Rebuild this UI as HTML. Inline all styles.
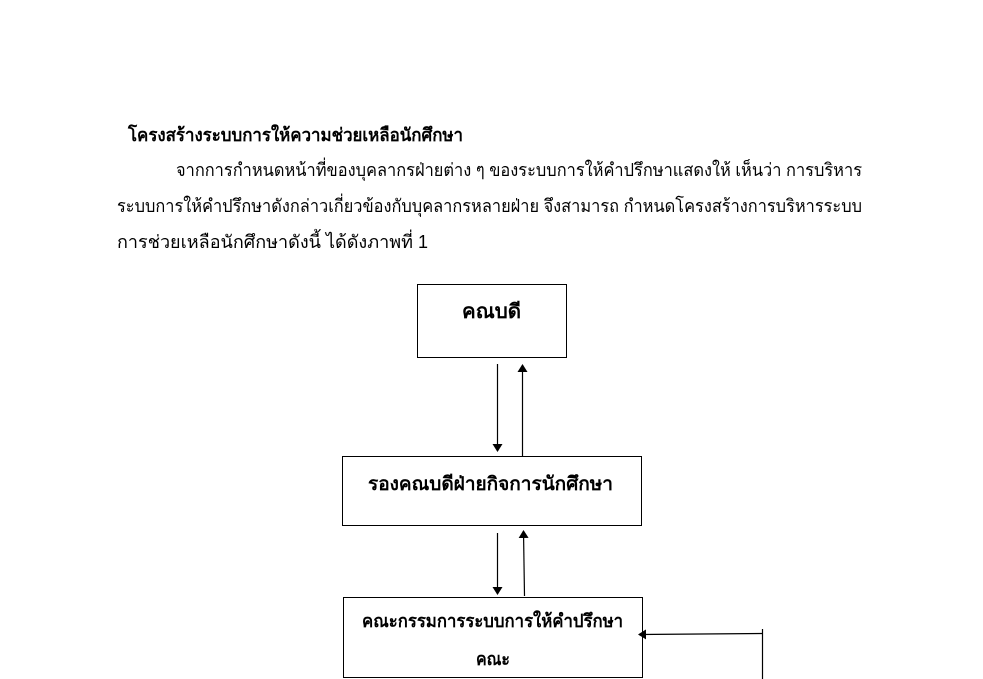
<!DOCTYPE html>
<html><head><meta charset="utf-8"><style>
html,body{margin:0;padding:0;background:#fff;}
svg{display:block}
text{font-family:"Liberation Sans","DejaVu Sans","Noto Sans CJK SC",sans-serif;fill:#000}
</style></head><body>
<svg width="983" height="679" viewBox="0 0 983 679" xmlns="http://www.w3.org/2000/svg">
<defs><marker id="a" markerWidth="8" markerHeight="10" refX="7" refY="5" orient="auto" markerUnits="userSpaceOnUse"><path d="M0,0 L8,5 L0,10 z" fill="#000"/></marker></defs>
<text x="128" y="141" font-size="18" font-weight="bold" textLength="335" lengthAdjust="spacingAndGlyphs">โครงสร้างระบบการให้ความช่วยเหลือนักศึกษา</text>
<text x="176" y="176" font-size="18" textLength="686" lengthAdjust="spacingAndGlyphs">จากการกำหนดหน้าที่ของบุคลากรฝ่ายต่าง ๆ ของระบบการให้คำปรึกษาแสดงให้ เห็นว่า การบริหาร</text>
<text x="117" y="212" font-size="18" textLength="745" lengthAdjust="spacingAndGlyphs">ระบบการให้คำปรึกษาดังกล่าวเกี่ยวข้องกับบุคลากรหลายฝ่าย จึงสามารถ กำหนดโครงสร้างการบริหารระบบ</text>
<text x="117" y="248" font-size="18" textLength="311" lengthAdjust="spacingAndGlyphs">การช่วยเหลือนักศึกษาดังนี้ ได้ดังภาพที่ 1</text>
<rect x="417.5" y="284.5" width="149" height="73" fill="none" stroke="#000"/>
<text x="462" y="318" font-size="20" font-weight="bold" textLength="59" lengthAdjust="spacingAndGlyphs">คณบดี</text>
<rect x="342.5" y="456.5" width="299" height="69" fill="none" stroke="#000"/>
<text x="368" y="490" font-size="19" font-weight="bold" textLength="245" lengthAdjust="spacingAndGlyphs">รองคณบดีฝ่ายกิจการนักศึกษา</text>
<rect x="343.5" y="597.5" width="299" height="80" fill="none" stroke="#000"/>
<text x="362" y="627" font-size="18" font-weight="bold" textLength="261" lengthAdjust="spacingAndGlyphs">คณะกรรมการระบบการให้คำปรึกษา</text>
<text x="476" y="665" font-size="18" font-weight="bold" textLength="34" lengthAdjust="spacingAndGlyphs">คณะ</text>
<g stroke="#000" stroke-width="1.2" fill="none">
<line x1="497.5" y1="364" x2="497.5" y2="451" marker-end="url(#a)"/>
<line x1="522.5" y1="456" x2="522.5" y2="365" marker-end="url(#a)"/>
<line x1="497.5" y1="533" x2="497.5" y2="594" marker-end="url(#a)"/>
<line x1="524.5" y1="596" x2="523.5" y2="531" marker-end="url(#a)"/>
<line x1="762.5" y1="629" x2="762.5" y2="679"/>
<line x1="762.5" y1="633.5" x2="639" y2="634.5" marker-end="url(#a)"/>
</g>
</svg>
</body></html>
